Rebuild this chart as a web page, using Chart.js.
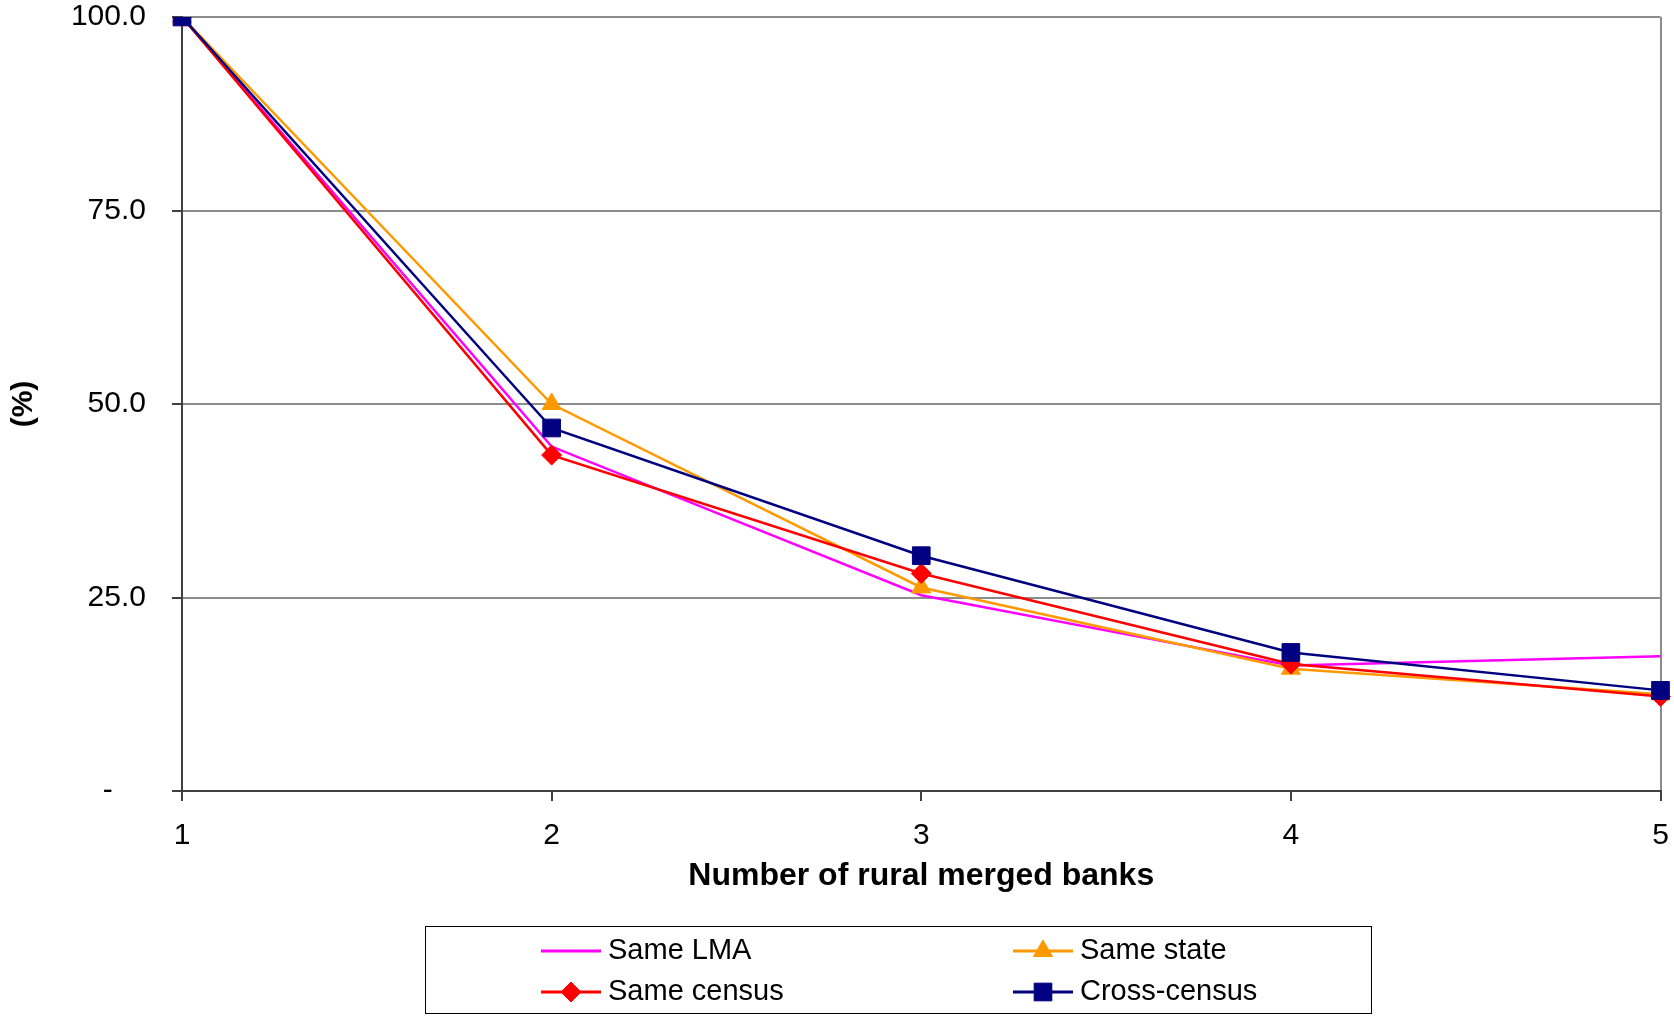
<!DOCTYPE html>
<html>
<head>
<meta charset="utf-8">
<title>Rural merged banks</title>
<script src="https://cdn.jsdelivr.net/npm/chart.js@4.4.0/dist/chart.umd.min.js"></script>
<style>
  html, body { margin: 0; padding: 0; background: #fff; }
  #wrap { width: 1674px; height: 1017px; }
</style>
</head>
<body>
<div id="wrap"><canvas id="chart"></canvas></div>
<script>
// values, in % 
const mergedBanks = ['1', '2', '3', '4', '5'];
const sameLMA = [100, 44.5, 25.3, 16.2, 17.4];
const sameState = [100, 50.0, 26.3, 15.8, 12.5];
const sameCensus = [100, 43.4, 28.1, 16.4, 12.2];
const crossCensus = [100, 46.9, 30.4, 17.9, 13.0];
const yTicks = [0, 25, 50, 75, 100];

const family = '"Liberation Sans", Arial, sans-serif';

// legend in a box with two columns, like the original
const boxLegend = {
    id: 'boxLegend',
    afterDraw(chart) {
        const ctx = chart.ctx;
        ctx.save();
        ctx.strokeStyle = '#000';
        ctx.lineWidth = 1;
        ctx.strokeRect(425.5, 926.5, 946, 87);

        const cols = [541, 1013];
        const rows = [951, 992];
        chart.data.datasets.forEach((ds, i) => {
            const x = cols[i % 2];
            const y = rows[Math.floor(i / 2)];
            ctx.strokeStyle = ds.borderColor;
            ctx.lineWidth = 3;
            ctx.beginPath();
            ctx.moveTo(x, y);
            ctx.lineTo(x + 60, y);
            ctx.stroke();
            if (ds.pointRadius > 0) {
                ctx.fillStyle = ds.pointBackgroundColor;
                ctx.strokeStyle = ds.pointBorderColor;
                ctx.lineWidth = 1;
                Chart.helpers.drawPoint(ctx, {pointStyle: ds.pointStyle, radius: ds.pointRadius, rotation: 0, borderWidth: 1}, x + 30, y);
            }
            ctx.fillStyle = '#000';
            ctx.font = '29px ' + family;
            ctx.textBaseline = 'middle';
            ctx.textAlign = 'left';
            ctx.fillText(ds.label, x + 67, y);
        });
        ctx.restore();
    }
};

function series(label, data, color, style, radius, order) {
    return {
        label: label,
        data: data,
        borderColor: color,
        backgroundColor: color,
        borderWidth: 2.5,
        pointStyle: style,
        pointRadius: radius,
        pointBackgroundColor: color,
        pointBorderColor: color,
        pointBorderWidth: 1,
        tension: 0,
        fill: false,
        order: order    // navy drawn on top
    };
}

new Chart(document.getElementById('chart'), {
    type: 'line',
    data: {
        labels: mergedBanks,
        datasets: [
            series('Same LMA', sameLMA, '#FF00FF', 'circle', 0, 4),
            series('Same state', sameState, '#FF9900', 'triangle', 11, 3),
            series('Same census', sameCensus, '#FF0000', 'rectRot', 10, 2),
            series('Cross-census', crossCensus, '#000080', 'rect', 12.5, 1)
        ]
    },
    options: {
        responsive: true,
        maintainAspectRatio: false,
        animation: false,
        layout: { padding: { left: 0, right: 11, top: 17, bottom: 118 } },
        plugins: {
            legend: { display: false },
            tooltip: { enabled: false }
        },
        scales: {
            x: {
                offset: false,
                grid: {
                    color: c => c.index === mergedBanks.length - 1 ? '#8c8c8c' : 'rgba(0,0,0,0)',
                    lineWidth: 2,
                    tickColor: '#000',
                    tickLength: 10,
                    tickWidth: 1.5
                },
                border: { color: '#404040', width: 2 },
                ticks: {
                    color: '#000',
                    font: { family: family, size: 30, lineHeight: 1 },
                    padding: 20,
                    maxRotation: 0
                },
                title: {
                    display: true,
                    text: 'Number of rural merged banks',
                    color: '#000',
                    font: { family: family, size: 32, weight: 'bold' },
                    padding: { top: 0, bottom: 4 }
                },
                afterFit: s => { s.height = 108; s.paddingLeft = 0; s.paddingRight = 0; }
            },
            y: {
                min: 0,
                max: 100,
                afterBuildTicks: s => { s.ticks = yTicks.map(v => ({ value: v })); },
                grid: {
                    color: '#8c8c8c',
                    lineWidth: 2,
                    tickColor: '#000',
                    tickLength: 10,
                    tickWidth: 1.5
                },
                border: { color: '#404040', width: 2 },
                ticks: {
                    color: '#000',
                    font: { family: family, size: 30, lineHeight: 1 },
                    padding: 26,
                    callback: v => v === 0 ? '-    ' : v.toFixed(1)
                },
                title: {
                    display: true,
                    text: '(%)',
                    color: '#000',
                    font: { family: family, size: 30, weight: 'bold' },
                    padding: { top: 6, bottom: 0 }
                },
                afterFit: s => { s.width = 182; s.paddingTop = 0; s.paddingBottom = 0; }
            }
        }
    },
    plugins: [boxLegend]
});
</script>
</body>
</html>
